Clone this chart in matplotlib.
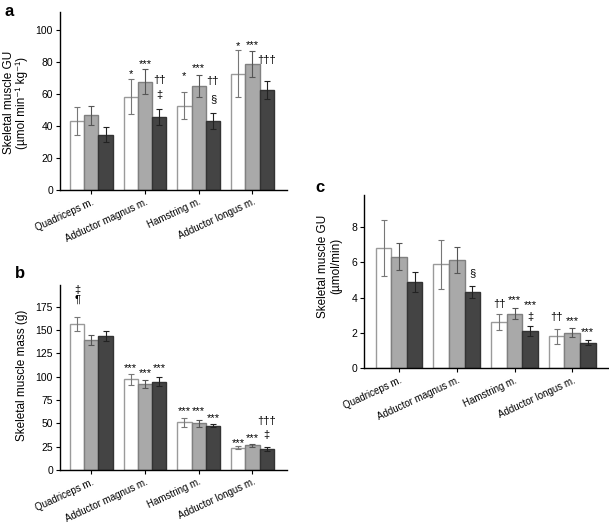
import numpy as np
import matplotlib
matplotlib.use('Agg')
import matplotlib.pyplot as plt
import matplotlib.transforms as mtransforms

plt.rcParams['font.family'] = ['Liberation Sans', 'DejaVu Sans']

muscles = ['Quadriceps m.', 'Adductor magnus m.', 'Hamstring m.', 'Adductor longus m.']

# panel a: skeletal muscle GU (umol/min/kg), three groups per muscle
gu_kg_white = [43, 58.3, 52.5, 72.6]
gu_kg_white_err = [8.7, 11.1, 8.4, 14.8]
gu_kg_grey = [46.7, 67.4, 64.7, 78.8]
gu_kg_grey_err = [6.0, 7.8, 6.8, 8.1]
gu_kg_dark = [34.6, 45.6, 43.2, 62.2]
gu_kg_dark_err = [4.8, 4.8, 5.0, 5.6]

# panel b: skeletal muscle mass (g)
mass_white = [156.5, 97, 51, 24]
mass_white_err = [7.5, 6, 4.5, 1.2]
mass_grey = [139, 92, 50, 26.5]
mass_grey_err = [5, 4, 4, 1.4]
mass_dark = [143.5, 94.5, 47.5, 22.5]
mass_dark_err = [5, 5, 1.7, 2.1]

# panel c: skeletal muscle GU (umol/min)
gu_white = [6.8, 5.87, 2.6, 1.81]
gu_white_err = [1.58, 1.4, 0.45, 0.43]
gu_grey = [6.32, 6.12, 3.09, 2.02]
gu_grey_err = [0.78, 0.73, 0.3, 0.24]
gu_dark = [4.89, 4.3, 2.09, 1.45]
gu_dark_err = [0.55, 0.33, 0.28, 0.13]

# significance marks: (muscle index, bar index 0/1/2, y, text)
marks_a = [(1, 0, 74.7, '*'), (1, 1, 81.3, '***'), (1, 2, 68.5, '††'), (1, 2, 59, '‡'),
           (2, 0, 73.6, '*'), (2, 1, 78.4, '***'), (2, 2, 67.8, '††'), (2, 2, 56.8, '§'),
           (3, 0, 92.3, '*'), (3, 1, 93, '***'), (3, 2, 81, '†††')]
marks_b = [(0, 0, 193, '‡'), (0, 0, 182, '¶'),
           (1, 0, 114, '***'), (1, 1, 108, '***'), (1, 2, 114, '***'),
           (2, 0, 68, '***'), (2, 1, 68, '***'), (2, 2, 60, '***'),
           (3, 0, 33, '***'), (3, 1, 39, '***'), (3, 2, 37.5, '‡'), (3, 2, 53, '†††')]
marks_c = [(1, 2, 5.4, '§'),
           (2, 0, 3.64, '††'), (2, 1, 4.09, '***'), (2, 2, 3.83, '***'), (2, 2, 2.92, '‡'),
           (3, 0, 2.92, '††'), (3, 1, 2.92, '***'), (3, 2, 2.26, '***')]

fills = ['white', '#a9a9a9', '#444444']
edges = ['#9a9a9a', '#808080', '#333333']
ecols = ['#777777', '#555555', '#222222']


def draw_panel(ax, series, errs, marks, w, ylim, yticks, xlim, ylabel):
    x = np.arange(len(muscles))
    for i, (vals, err) in enumerate(zip(series, errs)):
        pos = x + (i - 1) * w
        ax.bar(pos, vals, width=w, color=fills[i], edgecolor=edges[i], linewidth=1.0, zorder=2)
        ax.errorbar(pos, vals, yerr=err, fmt='none', ecolor=ecols[i], elinewidth=0.8,
                    capsize=2, capthick=0.8, zorder=3)
    for g, b, y, t in marks:
        # asterisks sit high in the glyph box, so shift them down a touch
        dy = -3 if '*' in t else 0
        ax.annotate(t, (g + (b - 1) * w, y), xytext=(0, dy), textcoords='offset points',
                    ha='center', va='center', fontsize=8, zorder=4)
    ax.set_xlim(*xlim)
    ax.set_ylim(*ylim)
    ax.set_yticks(yticks)
    ax.set_xticks(x)
    ax.set_xticklabels(muscles, rotation=25, ha='right', rotation_mode='anchor', fontsize=7)
    # nudge the rotated labels right/up so they end just past the tick
    shift = mtransforms.ScaledTranslation(0.07, 0.06, ax.figure.dpi_scale_trans)
    for lab in ax.get_xticklabels():
        lab.set_transform(lab.get_transform() + shift)
    ax.tick_params(axis='y', labelsize=7.5, length=3, width=0.8, pad=2)
    ax.tick_params(axis='x', length=3, width=0.8, pad=2)
    for s in ['top', 'right']:
        ax.spines[s].set_visible(False)
    for s in ['left', 'bottom']:
        ax.spines[s].set_linewidth(1.0)
    ax.set_ylabel(ylabel, fontsize=8.5, linespacing=1.1)


fig = plt.figure(figsize=(6.09, 5.23), dpi=100)

ax_a = fig.add_axes([0.0985, 0.6367, 0.3727, 0.3403])
draw_panel(ax_a, [gu_kg_white, gu_kg_grey, gu_kg_dark],
           [gu_kg_white_err, gu_kg_grey_err, gu_kg_dark_err], marks_a,
           0.266, (0, 111), range(0, 101, 20), (-0.583, 3.644),
           'Skeletal muscle GU\n(µmol min⁻¹ kg⁻¹)')
ax_a.yaxis.set_label_coords(-0.14, 0.49)

ax_b = fig.add_axes([0.0985, 0.1013, 0.3727, 0.3537])
draw_panel(ax_b, [mass_white, mass_grey, mass_dark],
           [mass_white_err, mass_grey_err, mass_dark_err], marks_b,
           0.266, (0, 198), range(0, 176, 25), (-0.583, 3.644),
           'Skeletal muscle mass (g)')
ax_b.yaxis.set_label_coords(-0.14, 0.51)

ax_c = fig.add_axes([0.5977, 0.2958, 0.4007, 0.3314])
draw_panel(ax_c, [gu_white, gu_grey, gu_dark],
           [gu_white_err, gu_grey_err, gu_dark_err], marks_c,
           0.269, (0, 9.8), range(0, 9, 2), (-0.607, 3.62),
           'Skeletal muscle GU\n(µmol/min)')
ax_c.yaxis.set_label_coords(-0.09, 0.59)

fig.text(0.007, 0.992, 'a', fontsize=12, fontweight='bold', va='top')
fig.text(0.025, 0.492, 'b', fontsize=12, fontweight='bold', va='top')
fig.text(0.518, 0.655, 'c', fontsize=12, fontweight='bold', va='top')

fig.savefig('out.png', dpi=100)
